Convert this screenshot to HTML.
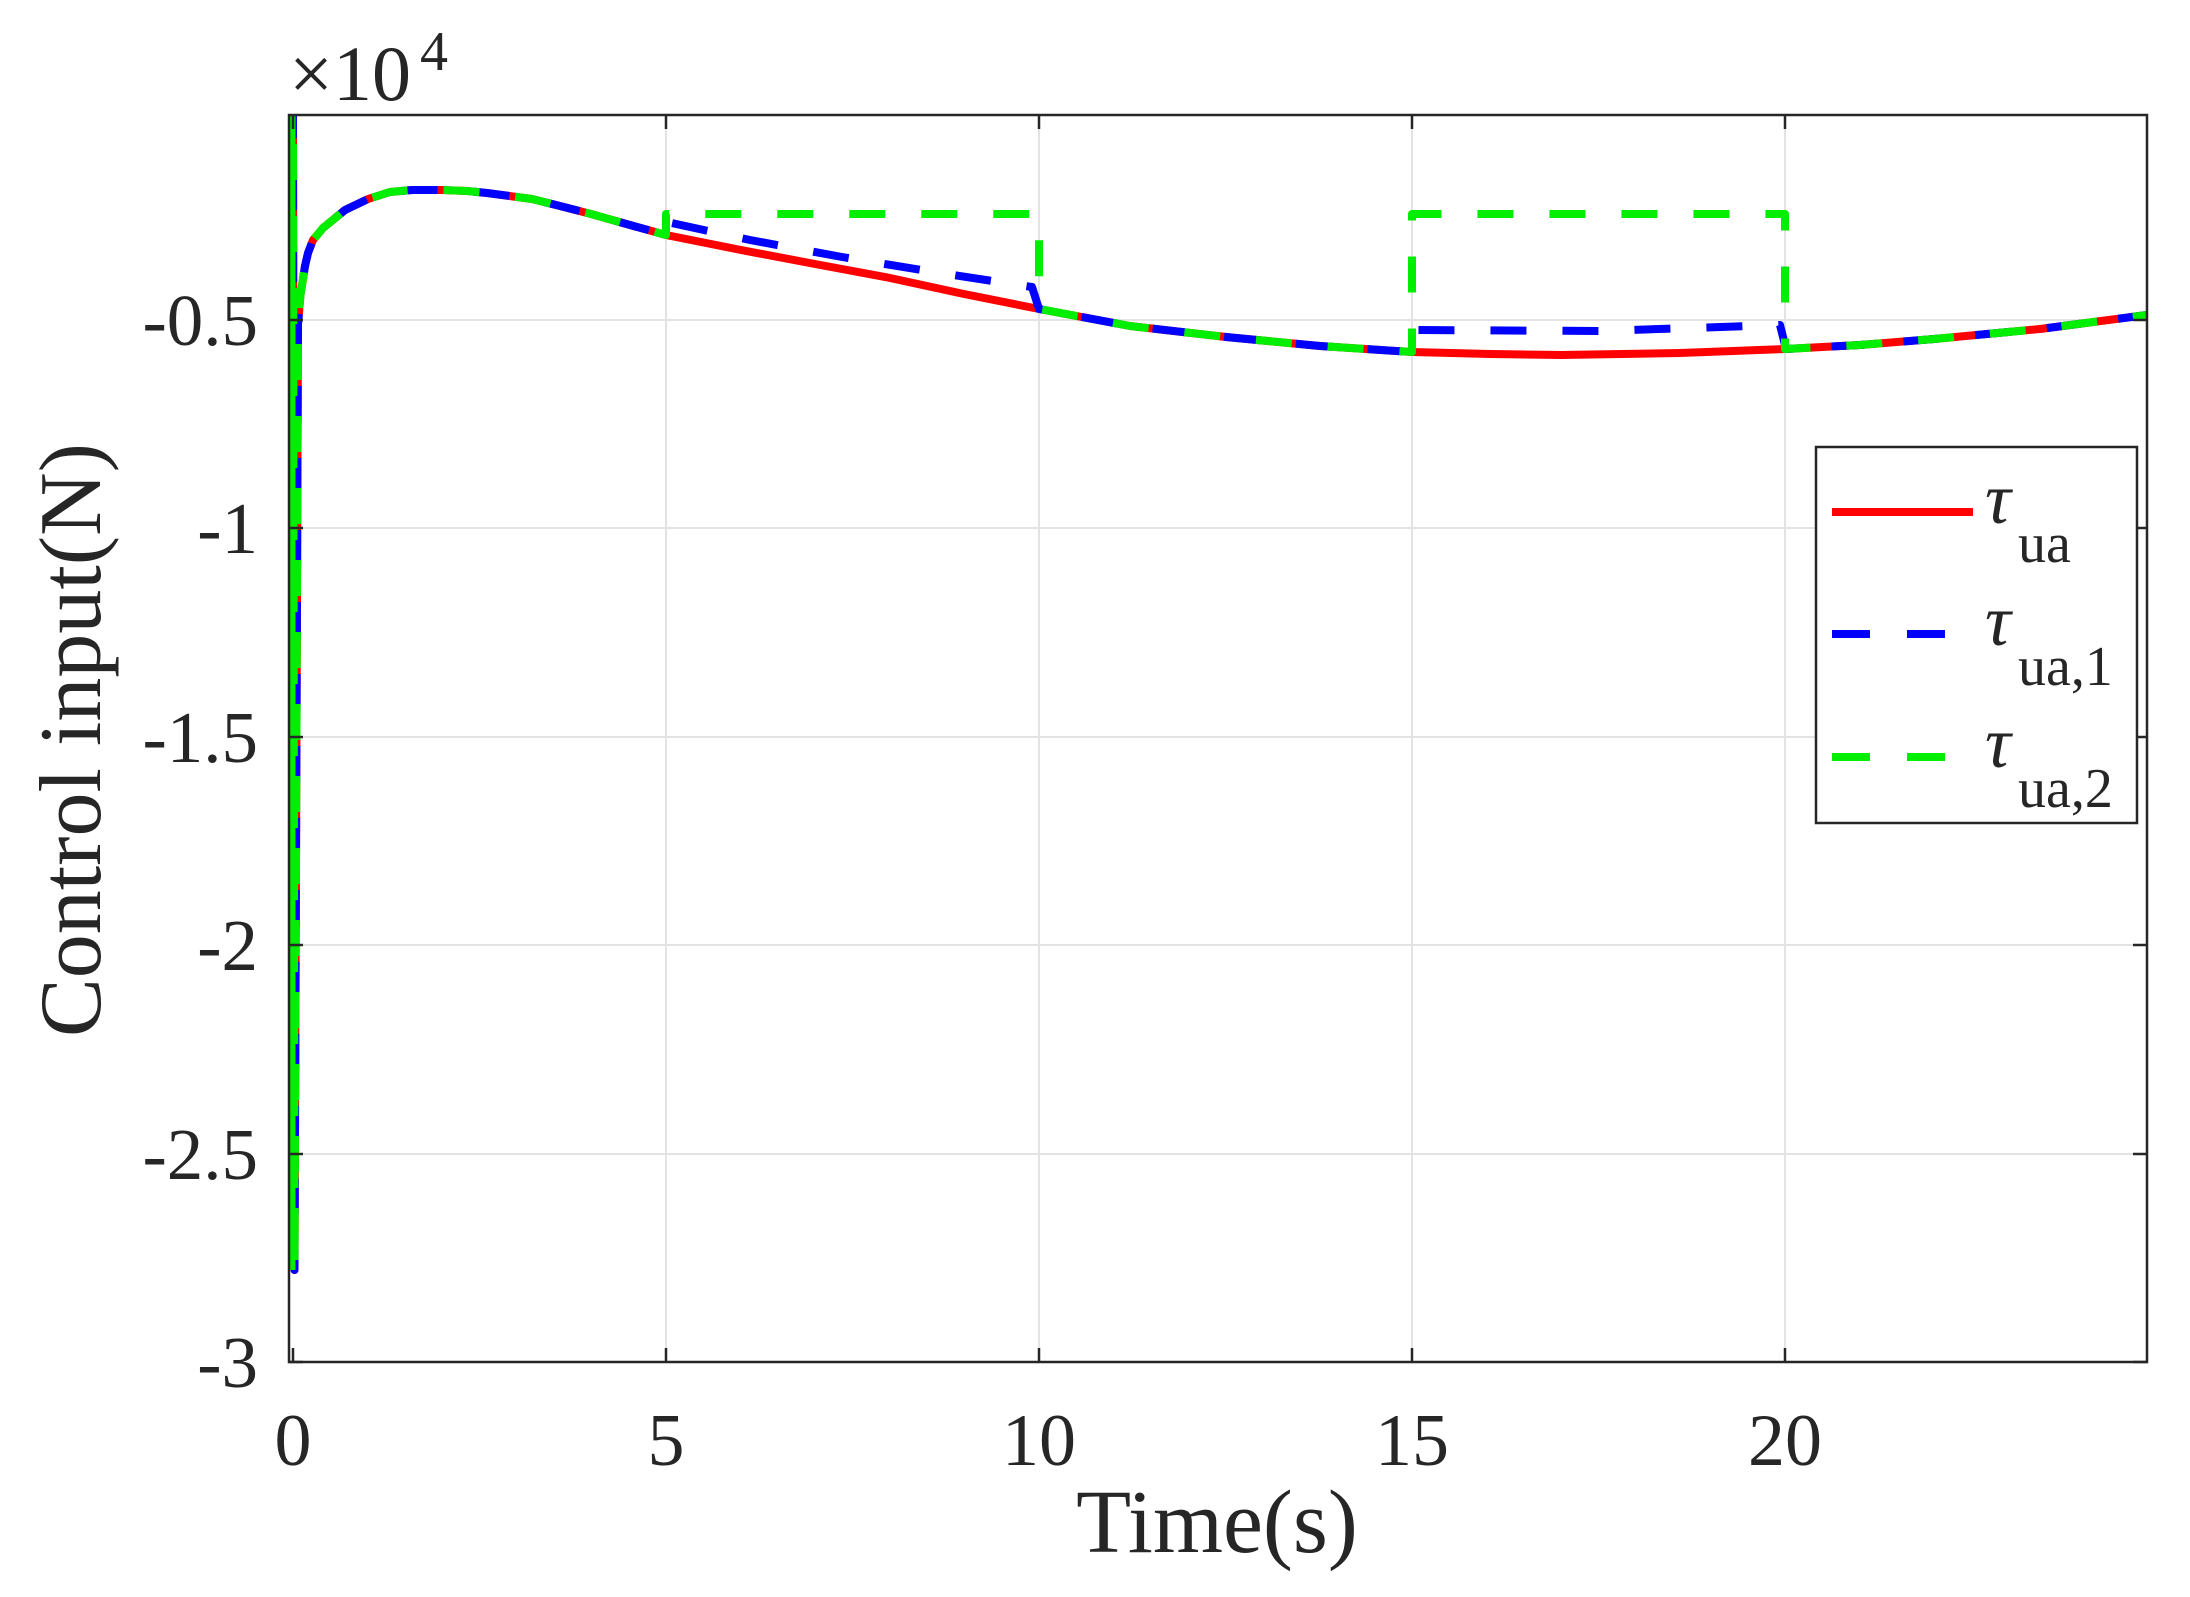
<!DOCTYPE html>
<html><head><meta charset="utf-8"><style>
html,body{margin:0;padding:0;background:#fff}
svg{display:block}
text{font-family:"Liberation Serif","Times New Roman",serif;fill:#262626}
</style></head><body>
<svg width="2190" height="1597" viewBox="0 0 2190 1597" xmlns="http://www.w3.org/2000/svg">
<defs><clipPath id="c"><rect x="289" y="115" width="1858" height="1247"/></clipPath></defs>
<rect width="2190" height="1597" fill="#fff"/>
<g stroke="#e3e3e3" stroke-width="2">
<line x1="666" y1="115" x2="666" y2="1362"/><line x1="1039" y1="115" x2="1039" y2="1362"/>
<line x1="1412" y1="115" x2="1412" y2="1362"/><line x1="1785" y1="115" x2="1785" y2="1362"/>
<line x1="289" y1="320" x2="2147" y2="320"/><line x1="289" y1="528" x2="2147" y2="528"/>
<line x1="289" y1="737" x2="2147" y2="737"/><line x1="289" y1="945" x2="2147" y2="945"/>
<line x1="289" y1="1154" x2="2147" y2="1154"/>
</g>
<g clip-path="url(#c)" fill="none" stroke-width="8" stroke-linejoin="round">
<polyline stroke="#ff0000" points="293,112 294.5,1270 298,324 300.5,295 305,266 308,253 313,240 323,228 345,210 368,199 390,192 412,190 442,190 467,191 487,193 532,199 560,206 591,214 630,225 666,235 741,250 815,264 890,278 964,294 1039,309 1130,326 1226,337 1320,346 1412,352 1490,354 1561,355 1680,353 1785,349 1860,345 1934,339 2040,329 2147,315"/>
<polyline stroke="#0000ff" stroke-dasharray="36 36" stroke-dashoffset="10" points="293,112 294.5,1270 298,324 300.5,295 305,266 308,253 313,240 323,228 345,210 368,199 390,192 412,190 442,190 467,191 487,193 532,199 560,206 591,214 630,225 666,235 667,222 750,240 842,257 940,273 1032,287 1039,309 1130,326 1226,337 1320,346 1412,352 1413,330 1600,331 1780,325 1786,349 1860,345 1934,339 2040,329 2147,315"/>
<polyline stroke="#00ee00" stroke-dasharray="36 36" stroke-dashoffset="40" points="293,112 294.5,1270 298,324 300.5,295 305,266 308,253 313,240 323,228 345,210 368,199 390,192 412,190 442,190 467,191 487,193 532,199 560,206 591,214 630,225 666,235 666,214 1039,214 1039,309 1130,326 1226,337 1320,346 1412,352 1412,214 1785,214 1785,349 1860,345 1934,339 2040,329 2147,315"/>
<line x1="292" y1="115" x2="292" y2="1270" stroke="#00ee00" stroke-width="7"/>
</g>
<g stroke="#262626" stroke-width="2.5" fill="none">
<rect x="289" y="115" width="1858" height="1247"/>
<path d="M293 1362v-14M666 1362v-14M1039 1362v-14M1412 1362v-14M1785 1362v-14M293 115v14M666 115v14M1039 115v14M1412 115v14M1785 115v14"/>
<path d="M289 320h14M289 528h14M289 737h14M289 945h14M289 1154h14M289 1362h14M2147 320h-14M2147 528h-14M2147 737h-14M2147 945h-14M2147 1154h-14M2147 1362h-14"/>
</g>
<g font-size="73" text-anchor="end">
<text x="258" y="345">-0.5</text><text x="258" y="553">-1</text><text x="258" y="762">-1.5</text>
<text x="258" y="970">-2</text><text x="258" y="1179">-2.5</text><text x="258" y="1387">-3</text>
</g>
<g font-size="74" text-anchor="middle">
<text x="293" y="1465">0</text><text x="666" y="1465">5</text><text x="1039" y="1465">10</text>
<text x="1412" y="1465">15</text><text x="1785" y="1465">20</text>
</g>
<text x="1217" y="1552" font-size="90" text-anchor="middle">Time(s)</text>
<text transform="translate(100,740) rotate(-90)" font-size="88" text-anchor="middle">Control input(N)</text>
<text x="289" y="100" font-size="78">×10</text><text x="420" y="70" font-size="56">4</text>
<rect x="1816" y="447" width="321" height="376" fill="#fff" stroke="#262626" stroke-width="2.5"/>
<line x1="1832" y1="512" x2="1973" y2="512" stroke="#ff0000" stroke-width="8"/>
<line x1="1832" y1="634" x2="1973" y2="634" stroke="#0000ff" stroke-width="8" stroke-dasharray="38 37"/>
<line x1="1832" y1="757" x2="1973" y2="757" stroke="#00ee00" stroke-width="8" stroke-dasharray="38 37"/>
<g font-size="72" font-style="italic"><text x="1985" y="523">τ</text><text x="1985" y="645">τ</text><text x="1985" y="767">τ</text></g>
<g font-size="56"><text x="2018" y="562">ua</text><text x="2018" y="685">ua,1</text><text x="2018" y="807">ua,2</text></g>
</svg>
</body></html>
